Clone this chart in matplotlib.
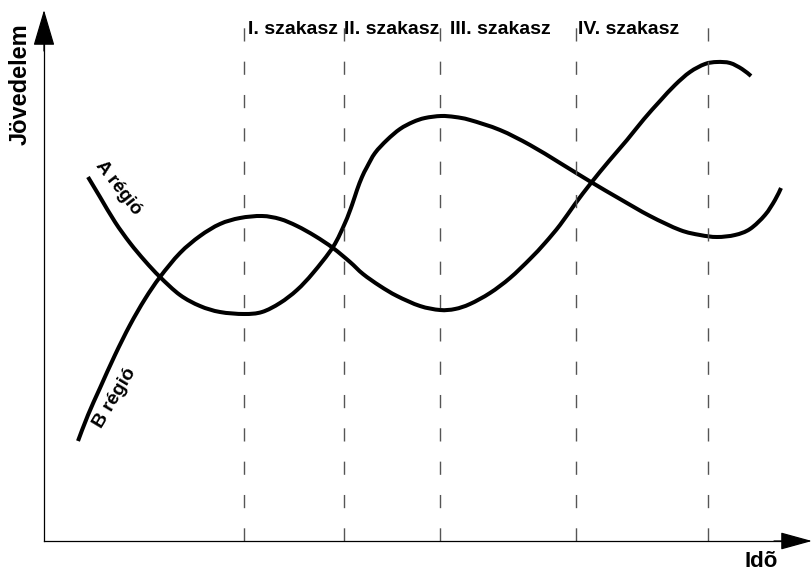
import matplotlib
matplotlib.use("Agg")
import matplotlib.pyplot as plt
import numpy as np
from matplotlib.path import Path
from matplotlib.patches import PathPatch

plt.rcParams['font.family'] = ['Liberation Sans', 'DejaVu Sans']

# Phase boundaries (time units) and phase labels
phase_lines = [200, 300, 396, 532, 664]
phase_labels = ["I. szakasz", "II. szakasz", "III. szakasz", "IV. szakasz"]
phase_label_x = [204, 300, 406, 534]

# Region A income over time
a_time = [44, 56, 71, 86, 101, 116, 136, 156, 176, 200, 218, 236, 253, 269, 289,
          301, 308, 313, 318, 323, 331, 343, 356, 369, 381, 397, 411, 426, 456,
          486, 516, 547, 576, 606, 636, 656, 673, 691, 706, 721, 731, 737]
a_income = [364, 344, 319, 298, 280, 264, 246, 235, 229, 227, 229, 238, 251, 268,
            294, 318, 336, 351, 364, 374, 388, 401, 412, 419, 423, 425, 424, 421,
            411, 396, 378, 359, 342, 325, 311, 306, 304, 306, 312, 326, 341, 353]

# Region B income over time
b_time = [34, 44, 56, 71, 86, 101, 116, 136, 156, 176, 196, 218, 236, 253, 271,
          289, 306, 319, 336, 353, 376, 396, 411, 426, 446, 466, 486, 501, 516,
          531, 547, 565, 583, 600, 616, 631, 646, 661, 673, 686, 698, 707]
b_income = [100, 126, 153, 186, 216, 242, 264, 288, 305, 317, 323, 325, 322, 315,
            305, 293, 279, 267, 255, 245, 235, 231, 232, 237, 248, 263, 282, 298,
            316, 337, 358, 380, 401, 422, 440, 456, 469, 477, 479, 478, 472, 465]


def smooth_path(xs, ys):
    """Catmull-Rom curve through the given points, drawn as cubic Beziers."""
    p = np.column_stack([xs, ys]).astype(float)
    n = len(p)
    verts = [p[0]]
    codes = [Path.MOVETO]
    for i in range(n - 1):
        p0 = p[i - 1] if i > 0 else p[i]
        p1, p2 = p[i], p[i + 1]
        p3 = p[i + 2] if i + 2 < n else p[i + 1]
        c1 = p1 + (p2 - p0) / 6.0
        c2 = p2 - (p3 - p1) / 6.0
        verts += [c1, c2, p2]
        codes += [Path.CURVE4] * 3
    return Path(verts, codes)


fig = plt.figure(figsize=(8.12, 5.74), dpi=100)
ax = fig.add_axes([0, 0, 1, 1])
ax.set_xlim(-44, 768)
ax.set_ylim(-33, 541)
ax.axis('off')

# phase dashed lines
for x in phase_lines:
    ax.plot([x, x], [0, 533], color='#555555', lw=1.0, dashes=(9.5, 14.5))

# axes with arrows
ax.plot([0, 0], [0, 505], color='black', lw=0.9)
ax.plot([0, 745], [0, 0], color='black', lw=0.9)
ax.annotate('', xy=(0, 531), xytext=(0, 490),
            arrowprops=dict(arrowstyle='-|>,head_length=2.3,head_width=0.68',
                            mutation_scale=10, color='black', lw=0.9,
                            shrinkA=0, shrinkB=0), annotation_clip=False)
ax.annotate('', xy=(768, 0), xytext=(730, 0),
            arrowprops=dict(arrowstyle='-|>,head_length=2.0,head_width=0.55',
                            mutation_scale=10, color='black', lw=0.9,
                            shrinkA=0, shrinkB=0), annotation_clip=False)

# curves
for xs, ys in ((a_time, a_income), (b_time, b_income)):
    ax.add_patch(PathPatch(smooth_path(xs, ys), facecolor='none',
                           edgecolor='black', lw=2.9, capstyle='butt',
                           joinstyle='round'))

# labels
for lab, x in zip(phase_labels, phase_label_x):
    ax.text(x, 507, lab, fontsize=14, fontweight='bold', ha='left', va='baseline')

ax.text(-24, 457, "Jövedelem", fontsize=17, fontweight='bold', rotation=90,
        ha='center', va='center')
ax.text(717, -26, "Idõ", fontsize=16, fontweight='bold', ha='center',
        va='baseline')

ax.text(74, 353, "A régió", fontsize=13.5, fontweight='bold', rotation=-52,
        ha='center', va='center')
ax.text(71, 143, "B régió", fontsize=14, fontweight='bold', rotation=59,
        ha='center', va='center')

fig.savefig("out.png", dpi=100)
